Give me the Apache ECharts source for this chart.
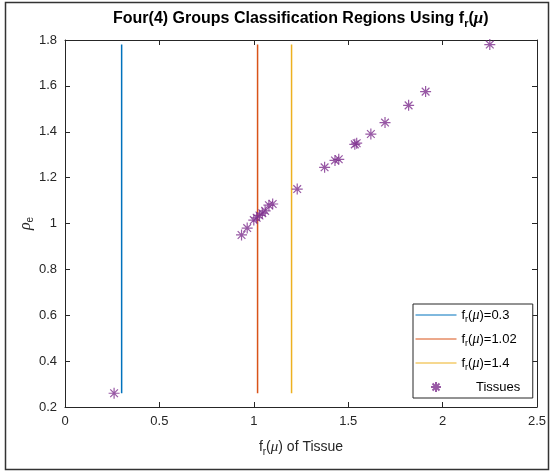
<!DOCTYPE html>
<html>
<head>
<meta charset="utf-8">
<script src="https://cdn.jsdelivr.net/npm/echarts@6/dist/echarts.min.js"></script>
<style>
html,body{margin:0;padding:0;background:#fff;}
#chart{width:552px;height:473px;}
</style>
</head>
<body>
<div id="chart"></div>
<script>
// ---- data ----
const tissueX = [0.26, 0.935, 0.965, 1.0, 1.015, 1.03, 1.045, 1.06, 1.08, 1.1, 1.23, 1.375, 1.43, 1.45, 1.535, 1.545, 1.62, 1.695, 1.82, 1.91, 2.25];
const tissueY = [0.26, 0.95, 0.98, 1.015, 1.025, 1.035, 1.045, 1.055, 1.08, 1.085, 1.15, 1.245, 1.275, 1.28, 1.345, 1.35, 1.39, 1.44, 1.515, 1.575, 1.78];
const thresholdX = [0.3, 1.02, 1.2];
const thresholdLabels = ['0.3', '1.02', '1.4'];
const lineYRange = [0.26, 1.78];
const xTicks = [0, 0.5, 1, 1.5, 2, 2.5];
const yTicks = [0.2, 0.4, 0.6, 0.8, 1, 1.2, 1.4, 1.6, 1.8];

const lineColors = ['#0072BD', '#D95319', '#EDB120'];
const markerColor = '#7E2F8E';
const axisColor = '#262626';
const FONT = 'Liberation Sans, Arial, Helvetica, sans-serif';
const SERIF = 'Liberation Serif, Times New Roman, serif';

const chart = echarts.init(document.getElementById('chart'), null, {renderer: 'canvas'});

const subRich = {
  n: {fontSize: 13, color: '#000', fontFamily: FONT, lineHeight: 16},
  s: {fontSize: 9, color: '#000', fontFamily: FONT, lineHeight: 9, padding: [9, 0, 0, 0]},
  m: {fontSize: 14, color: '#000', fontFamily: SERIF, fontStyle: 'italic', lineHeight: 16}
};

const series = [];
thresholdX.forEach((x, i) => {
  series.push({
    name: 'fr(μ)=' + thresholdLabels[i],
    type: 'line',
    data: [[x, lineYRange[0]], [x, lineYRange[1]]],
    symbol: 'none',
    showSymbol: false,
    lineStyle: {color: lineColors[i], width: 1.5},
    itemStyle: {color: lineColors[i]},
    animation: false,
    z: 2
  });
});
series.push({
  name: 'Tissues',
  type: 'scatter',
  data: tissueX.map((x, i) => [x, tissueY[i]]),
  symbol: 'path://M5,0L5,10M0,5L10,5M1.5,1.5L8.5,8.5M1.5,8.5L8.5,1.5',
  symbolSize: 11,
  itemStyle: {color: 'rgba(0,0,0,0)', borderColor: markerColor, borderWidth: 1.2},
  animation: false,
  z: 3
});

const baseAxis = {
  axisLine: {show: true, onZero: false, lineStyle: {color: axisColor, width: 1}},
  axisTick: {show: true, inside: true, length: 5, lineStyle: {color: axisColor}},
  splitLine: {show: false}
};

chart.setOption({
  animation: false,
  backgroundColor: '#fff',
  title: {
    text: '{b|Four(4) Groups Classification Regions Using f}{bs|r}{b|(}{bm|μ}{b|)}',
    left: 113,
    top: 9,
    padding: 0,
    textStyle: {
      rich: {
        b: {fontSize: 16, fontWeight: 'bold', color: '#000', fontFamily: FONT, lineHeight: 19},
        bs: {fontSize: 11, fontWeight: 'bold', color: '#000', fontFamily: FONT, lineHeight: 11, padding: [10, 0, 0, 0]},
        bm: {fontSize: 17, color: '#000', fontFamily: SERIF, fontStyle: 'italic', lineHeight: 19}
      }
    }
  },
  graphic: [{
    type: 'rect',
    shape: {x: 5.5, y: 2.5, width: 543, height: 467},
    style: {fill: 'none', stroke: '#333', lineWidth: 1.5},
    silent: true,
    z: -10
  }],
  grid: {left: 65, right: 15, top: 40, bottom: 66, containLabel: false},
  legend: {
    orient: 'vertical',
    left: 413,
    top: 304,
    width: 112,
    padding: [2, 10, 2, 2],
    itemGap: 6,
    itemWidth: 41,
    itemHeight: 10,
    itemTextGap: 4,
    borderColor: axisColor,
    borderWidth: 1,
    backgroundColor: '#fff',
    data: series.map(s => s.type === 'line'
      ? {name: s.name, itemStyle: {opacity: 0}, lineStyle: {width: 1}}
      : {name: s.name}),
    formatter: function (name) {
      if (name === 'Tissues') return '{n|    Tissues}{s| }';
      return '{n|f}{s|r}{n|(}{m|μ}{n|)=' + name.split('=')[1] + '}';
    },
    textStyle: {rich: subRich}
  },
  xAxis: [
    Object.assign({}, baseAxis, {
      type: 'value', min: xTicks[0], max: xTicks[xTicks.length - 1], interval: 0.5,
      position: 'bottom',
      axisLabel: {color: axisColor, fontSize: 13, fontFamily: FONT, margin: 8},
      name: '{n|f}{s|r}{n|(}{m|μ}{n|) of Tissue}',
      nameLocation: 'middle',
      nameGap: 32,
      nameMoveOverlap: false,
      nameTextStyle: {rich: {
        n: {fontSize: 14, color: axisColor, fontFamily: FONT, lineHeight: 17},
        s: {fontSize: 10, color: axisColor, fontFamily: FONT, lineHeight: 10, padding: [9, 0, 0, 0]},
        m: {fontSize: 15, color: axisColor, fontFamily: SERIF, fontStyle: 'italic', lineHeight: 17}
      }}
    }),
    Object.assign({}, baseAxis, {
      type: 'value', min: xTicks[0], max: xTicks[xTicks.length - 1], interval: 0.5,
      position: 'top', axisLabel: {show: false}
    })
  ],
  yAxis: [
    Object.assign({}, baseAxis, {
      type: 'value', min: yTicks[0], max: yTicks[yTicks.length - 1], interval: 0.2,
      position: 'left',
      axisLabel: {color: axisColor, fontSize: 13, fontFamily: FONT, margin: 8},
      name: '{m|ρ}{s|e}',
      nameLocation: 'middle',
      nameRotate: 90,
      nameGap: 31,
      nameMoveOverlap: false,
      nameTextStyle: {rich: {
        m: {fontSize: 16, color: axisColor, fontFamily: SERIF, fontStyle: 'italic', lineHeight: 17},
        s: {fontSize: 10, color: axisColor, fontFamily: FONT, lineHeight: 10, padding: [9, 0, 0, 0]}
      }}
    }),
    Object.assign({}, baseAxis, {
      type: 'value', min: yTicks[0], max: yTicks[yTicks.length - 1], interval: 0.2,
      position: 'right', axisLabel: {show: false}
    })
  ],
  series: series
});
</script>
</body>
</html>
